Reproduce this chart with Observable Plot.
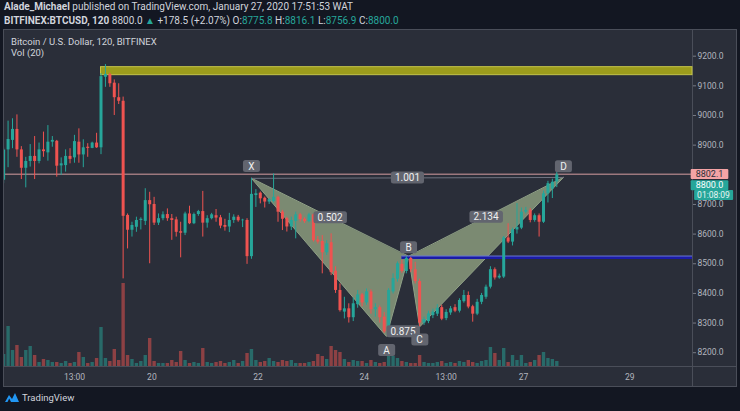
<!DOCTYPE html>
<html><head><meta charset="utf-8">
<script src="https://cdn.jsdelivr.net/npm/d3@7"></script>
<script src="https://cdn.jsdelivr.net/npm/@observablehq/plot@0.6"></script>
<style>
html,body{margin:0;padding:0;background:#131722;}
#root{position:relative;width:740px;height:411px;overflow:hidden;background:#131722;font-family:Roboto,"Noto Sans",sans-serif;}
.hdr{position:absolute;left:4px;color:#d1d4dc;font-size:10px;white-space:nowrap;line-height:12px;}
.t{color:#26a69a;}
#pane{position:absolute;left:3px;top:29px;width:732px;height:356px;background:#2a2e39;border:1px solid #4a4e59;}
.sep{position:absolute;background:#4a4e59;}
.leg{position:absolute;left:11px;color:#d1d4dc;font-size:9.5px;white-space:nowrap;line-height:11px;}
svg.abs{position:absolute;left:0;}
#logo{position:absolute;left:5px;top:392px;color:#d1d4dc;font-size:9.5px;display:flex;align-items:center;gap:3px;}
</style></head>
<body><div id="root">
<div class="hdr" style="top:1px"><b>Alade_Michael</b> published on TradingView.com, January 27, 2020 17:51:53 WAT</div>
<div class="hdr" style="top:15px" id="quote"></div>
<div id="pane"></div>
<div class="sep" style="left:692px;top:29px;width:1px;height:358px"></div>
<div class="sep" style="left:3px;top:366px;width:734px;height:1px"></div>
<div class="leg" style="top:36px">Bitcoin / U.S. Dollar, 120, BITFINEX</div>
<div class="leg" style="top:47px">Vol (20)</div>
<div id="logo"><svg width="14" height="11" viewBox="0 0 14 11"><path d="M0 10 L4 3 L7 7 L10 1 L14 10 Z" fill="#2196f3"/><path d="M2.5 10 L4.2 6.5 L6 10 Z" fill="#131722"/></svg><span>TradingView</span></div>
</div>
<script>
// ---- data ----
const startTime = Date.UTC(2020, 0, 17, 5); // first 2h candle
const opens = [
8782,8884,8916,8953,8884,8822,8845,8862,8845,8884,
8874,8910,8913,8830,8831,8862,8857,8910,8867,8893,
8889,8907,8891,9129,9138,9109,9060,9048,8663,8613,
8623,8646,8643,8713,8700,8637,8652,8666,8652,8648,
8608,8603,8668,8635,8666,8676,8637,8652,8662,8655,
8629,8624,8646,8657,8645,8646,
8524,8730,8738,8721,8708,8710,8724,8674,8652,8624,
8643,8665,8650,8642,8665,8580,8575,8537,8571,8475,
8410,8337,8348,8318,8362,8395,8368,8405,8345,8352,
8320,8270,8405,8448,8498,8474,8518,8480,8440,8300,
8305,8325,8330,8352,8315,8334,8352,8340,8372,8393,
8355,8330,8370,8387,8421,8480,8452,8455,8587,8573,
8614,8620,8674,8680,8646,8662,8640,8736,8752,8775.8];
const highs = [
8890,8981,8989,9002,8895,8859,8902,8929,8907,8944,
8966,8929,8916,8857,8884,8888,8933,8955,8918,8905,
8910,8940,9141,9172,9143,9120,9107,9062,8668,8640,
8657,8655,8753,8741,8724,8668,8675,8685,8666,8657,
8640,8674,8694,8671,8680,8744,8662,8670,8683,8663,
8650,8670,8665,8663,8650,8652,
8788,8750,8742,8725,8720,8803,8728,8680,8657,8657,
8674,8670,8655,8670,8668,8592,8595,8578,8601,8490,
8432,8387,8365,8385,8410,8400,8415,8412,8365,8358,
8335,8416,8466,8506,8512,8524,8522,8505,8448,8320,
8340,8347,8362,8360,8345,8356,8362,8382,8410,8405,
8360,8380,8400,8428,8490,8486,8465,8592,8635,8620,
8703,8688,8690,8686,8668,8668,8745,8778,8785,8816.1];
const lows = [
8770,8824,8888,8859,8784,8756,8826,8784,8837,8859,
8846,8893,8792,8798,8809,8837,8839,8839,8824,8859,
8888,8889,8868,9095,9095,9000,9037,8449,8550,8590,
8606,8614,8629,8500,8629,8629,8645,8643,8579,8590,
8520,8595,8632,8632,8660,8590,8620,8648,8640,8618,
8610,8605,8636,8640,8622,8498,
8515,8690,8702,8688,8700,8705,8640,8612,8607,8612,
8584,8640,8636,8638,8573,8566,8466,8528,8460,8400,
8337,8314,8300,8305,8350,8355,8360,8330,8320,8300,
8265,8255,8398,8438,8468,8466,8470,8432,8287,8292,
8298,8315,8322,8308,8308,8326,8335,8334,8367,8348,
8303,8325,8362,8380,8415,8445,8448,8450,8568,8560,
8600,8615,8668,8638,8640,8590,8636,8705,8720,8756.9];
const closes = [
8884,8919,8953,8884,8822,8845,8862,8845,8884,8878,
8910,8916,8829,8837,8862,8852,8912,8867,8891,8889,
8907,8891,9131,9138,9107,9060,9048,8660,8613,8629,
8646,8650,8713,8699,8637,8652,8665,8652,8646,8606,
8603,8668,8635,8666,8676,8637,8652,8665,8654,8627,
8623,8646,8657,8645,8647,8524,
8734,8736,8719,8708,8716,8724,8674,8650,8624,8646,
8665,8649,8642,8665,8578,8573,8537,8567,8470,8410,
8342,8348,8318,8365,8395,8368,8405,8345,8352,8318,
8270,8410,8450,8500,8474,8518,8480,8440,8300,8312,
8331,8337,8350,8313,8336,8348,8340,8376,8393,8354,
8330,8370,8393,8421,8480,8452,8458,8587,8573,8614,
8622,8674,8680,8646,8662,8640,8736,8770,8775,8800.0];
const volumes = [
480,1600,640,840,360,640,800,440,160,280,
240,160,160,120,200,120,160,560,360,120,
160,320,1560,320,200,680,240,3320,440,280,
120,200,440,1120,200,120,120,120,240,160,
600,240,120,160,120,720,160,120,160,200,
120,160,240,120,200,520,680,240,160,200,
320,200,160,240,200,240,120,120,120,160,
200,480,400,280,800,640,560,280,160,240,
200,200,120,240,160,120,160,760,400,320,
200,160,120,120,440,160,120,120,160,200,
120,160,120,200,160,240,160,120,200,240,
760,520,240,720,160,440,240,440,120,160,
240,440,560,320,280,200];

// 8800.0 tick label sits fully under the price badges, so only its tick is drawn
const priceTicks = [8200,8300,8400,8500,8600,8700,8800,8900,9000,9100,9200];
const priceTickLabelsHidden = [8800];
const timeTicks = [Date.UTC(2020,0,18,13), Date.UTC(2020,0,20), Date.UTC(2020,0,22), Date.UTC(2020,0,24), Date.UTC(2020,0,25,13), Date.UTC(2020,0,27), Date.UTC(2020,0,29)];
const timeTickLabels = ["13:00","20","22","24","13:00","27","29"];

const patternNames = ["X","A","B","C","D"];
const patternTimes = [Date.UTC(2020,0,21,21), Date.UTC(2020,0,24,10), Date.UTC(2020,0,24,20), Date.UTC(2020,0,25,1), Date.UTC(2020,0,27,18)];
const patternPrices = [8788, 8255, 8524, 8287, 8791];
const ratioTexts = ["0.502","0.875","2.134","1.001"];
const ratioPairs = [[0,2],[1,3],[2,4],[0,4]];

const zoneStart = Date.UTC(2020,0,19,1);
const zoneLow = 9136, zoneHigh = 9163;
const supportStart = Date.UTC(2020,0,24,17);
const supportLevel = 8521;
const lineLevel = 8802.1;
const countdown = "01:08:09";

// ---- build ----
const up = "#26a69a", down = "#ef5350";
const candles = opens.map((o, i) => ({date: new Date(startTime + i * 7200e3), open: o, high: highs[i], low: lows[i], close: closes[i], volume: volumes[i]}));
const last = candles[candles.length - 1];
const xDomain = [new Date(Date.UTC(2020,0,17,5,23)), new Date(Date.UTC(2020,0,30,4,20))];
const yDomain = [8153.5, 9290];
const col = d => d.close >= d.open ? up : down;

document.getElementById("quote").innerHTML =
  `<b>BITFINEX:BTCUSD, 120</b> ${last.close.toFixed(1)} <span class="t">▲</span> +178.5 (+2.07%) O:<span class="t">${last.open.toFixed(1)}</span> H:<span class="t">${last.high.toFixed(1)}</span> L:<span class="t">${last.low.toFixed(1)}</span> C:<span class="t">${last.close.toFixed(1)}</span>`;

const pts = patternNames.map((n, i) => ({name: n, date: new Date(patternTimes[i]), price: patternPrices[i]}));
const tris = [
  ...[0,1,2].map(i => ({tri: "XAB", date: pts[i].date, price: pts[i].price})),
  ...[2,3,4].map(i => ({tri: "BCD", date: pts[i].date, price: pts[i].price}))
];
const ratios = ratioTexts.map((t, k) => {
  const [a, b] = ratioPairs[k];
  return {text: t, date: new Date((+pts[a].date + +pts[b].date) / 2), price: (pts[a].price + pts[b].price) / 2};
});
const tickLabel = new Map(timeTicks.map((t, i) => [t, timeTickLabels[i]]));
const font = "Roboto, 'Noto Sans', sans-serif";

const volPlot = Plot.plot({
  width: 740, height: 83, marginLeft: 4, marginRight: 48, marginTop: 0, marginBottom: 0,
  x: {type: "utc", domain: xDomain, axis: null},
  y: {domain: [0, 3320], axis: null},
  style: {background: "transparent"},
  marks: [
    Plot.ruleX(candles, {x: "date", y1: 0, y2: "volume", stroke: col, strokeOpacity: 0.5, strokeWidth: 3.4, clip: true})
  ]
});
volPlot.classList.add("abs");
volPlot.style.top = "283px";

const pricePlot = Plot.plot({
  width: 740, height: 357, marginLeft: 4, marginRight: 48, marginTop: 0, marginBottom: 20,
  x: {type: "utc", domain: xDomain},
  y: {domain: yDomain},
  style: {background: "transparent", color: "#b2b5be", fontFamily: font, fontSize: "8.5px"},
  marks: [
    Plot.axisY({anchor: "right", ticks: priceTicks, tickFormat: d => priceTickLabelsHidden.includes(d) ? "" : d.toFixed(1), tickSize: 3, tickPadding: 2, stroke: "#787b86", fill: "#b2b5be"}),
    Plot.axisX({ticks: timeTicks.map(t => new Date(t)), tickFormat: d => tickLabel.get(+d), tickSize: 0, tickPadding: 7, fill: "#b2b5be"}),
    Plot.rect([0], {x1: () => new Date(zoneStart), x2: () => xDomain[1], y1: zoneLow, y2: zoneHigh, fill: "#9c9c1c", stroke: "#c4c44a", strokeWidth: 1}),
    Plot.line(tris, {x: "date", y: "price", z: "tri", curve: "linear-closed", fill: "#7b8a72", stroke: "#8fa086", strokeWidth: 1}),
    Plot.line([pts[0], pts[4]], {x: "date", y: "price", stroke: "#6f7380", strokeWidth: 1}),
    Plot.ruleY([lineLevel], {stroke: "#d69ca0", strokeWidth: 1}),
    Plot.ruleY([supportLevel], {x1: () => new Date(supportStart), x2: () => xDomain[1], stroke: "#1b1ba6", strokeWidth: 3}),
    Plot.ruleY([supportLevel + 5], {x1: () => new Date(supportStart), x2: () => xDomain[1], stroke: "#6a78d4", strokeWidth: 1}),
    Plot.ruleX(candles, {x: "date", y1: "low", y2: "high", stroke: col, strokeWidth: 1, clip: true}),
    Plot.ruleX(candles, {x: "date", y1: "open", y2: "close", stroke: col, strokeWidth: 3, clip: true}),
    Plot.text(ratios, {x: "date", y: "price", text: "text", fill: "#f0f0f0", fontSize: 10, className: "lblbox"}),
    Plot.text([pts[0]], {x: "date", y: "price", text: "name", dy: -12, fill: "#f0f0f0", fontSize: 10, className: "lblbox"}),
    Plot.text([pts[1]], {x: "date", y: "price", text: "name", dy: 14, fill: "#f0f0f0", fontSize: 10, className: "lblbox"}),
    Plot.text([pts[2]], {x: "date", y: "price", text: "name", dy: -9, fill: "#f0f0f0", fontSize: 10, className: "lblbox"}),
    Plot.text([pts[3]], {x: "date", y: "price", text: "name", dy: 13, fill: "#f0f0f0", fontSize: 10, className: "lblbox"}),
    Plot.text([pts[4]], {x: "date", y: "price", text: "name", dy: -11, fill: "#f0f0f0", fontSize: 10, className: "lblbox"}),
    Plot.text([lineLevel], {frameAnchor: "right", y: d => d, text: d => d.toFixed(1), textAnchor: "middle", dx: 17, fill: "#2a2e39", fontSize: 9, className: "badgepink"}),
    Plot.text([last.close], {frameAnchor: "right", y: d => d, text: d => d.toFixed(1), textAnchor: "middle", dx: 17, dy: 10.5, fill: "#ffffff", fontSize: 9, className: "badgeteal"}),
    Plot.text([last.close], {frameAnchor: "right", y: d => d, text: () => countdown, textAnchor: "middle", dx: 21, dy: 20.5, fill: "#e8f5f3", fontSize: 8.5, className: "badgeteal2"})
  ]
});
pricePlot.classList.add("abs");
pricePlot.style.top = "29px";

const root = document.getElementById("root");
root.insertBefore(volPlot, document.getElementById("logo"));
root.insertBefore(pricePlot, document.getElementById("logo"));

function boxify(svg, cls, fill, padX, padY, rx, minW) {
  d3.select(svg).selectAll(`g.${cls} text`).each(function () {
    const b = this.getBBox();
    let w = b.width + 2 * padX;
    let x = b.x - padX;
    if (minW && w < minW) { x -= (minW - w) / 2; w = minW; }
    d3.select(this.parentNode).insert("rect", () => this)
      .attr("transform", this.getAttribute("transform"))
      .attr("x", x).attr("y", b.y - padY)
      .attr("width", w).attr("height", b.height + 2 * padY)
      .attr("rx", rx).attr("fill", fill);
  });
}
boxify(pricePlot, "lblbox", "#62656f", 4, 0.5, 2.5, 17);
boxify(pricePlot, "badgepink", "#f4a3a5", 5, 0, 1, 0);
boxify(pricePlot, "badgeteal", "#26a69a", 5, 0, 1, 0);
boxify(pricePlot, "badgeteal2", "#26a69a", 3, 0, 1, 0);
</script>
</body></html>
